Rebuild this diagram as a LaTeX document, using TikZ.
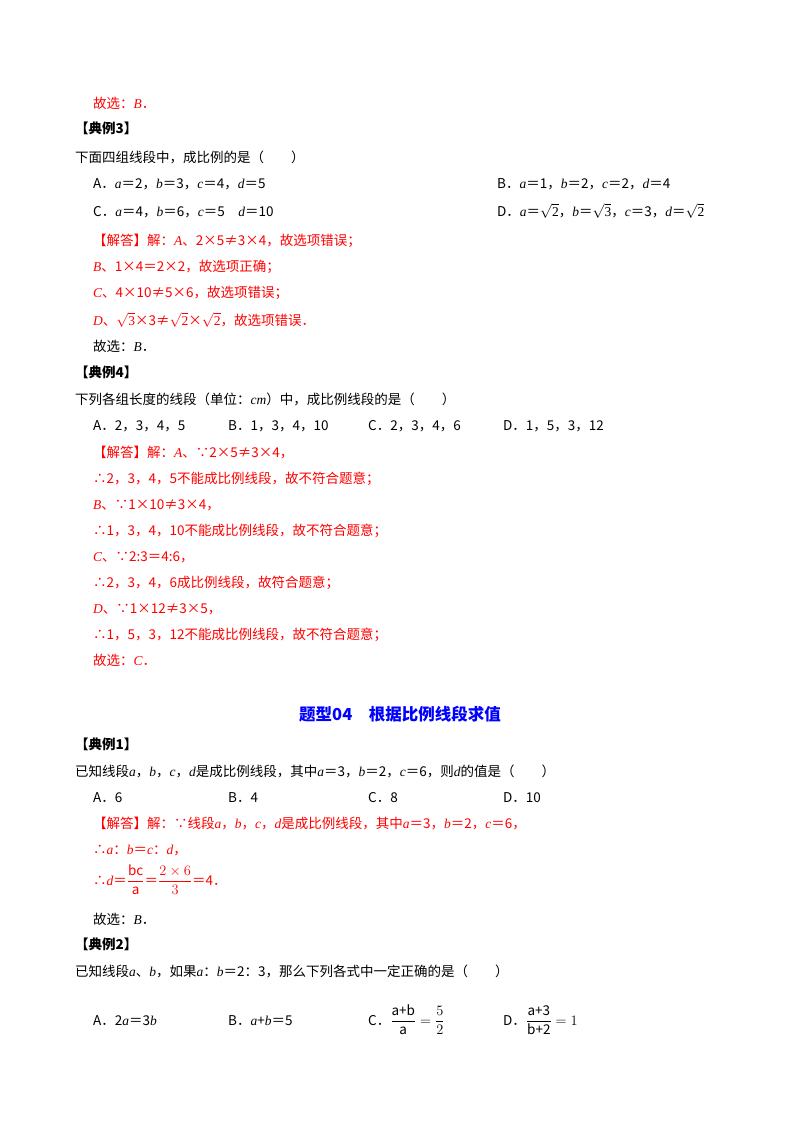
\documentclass[tikz,border=0pt]{standalone}
\usepackage{fontspec}
\usepackage{amsmath}
\setmainfont{Noto Sans CJK SC}
\newfontfamily\lt{Liberation Serif}
\newcommand{\vv}[1]{{\lt\itshape #1}}
\newcommand{\rt}[1]{$\sqrt{\text{\lt #1}}$}
\begin{document}
\begin{tikzpicture}[x=1pt,y=-1pt,
 t/.style={anchor=base west,inner sep=0pt,font=\fontsize{13.5}{16}\selectfont},
 r/.style={t,text=red},
 h/.style={t,font=\fontsize{13.5}{16}\selectfont\bfseries}]
\useasboundingbox (0,0) rectangle (800,1132);
\node[r] (l1) at (93,108) {故选：\vv{B}．};
\node[h] (l2) at (75,133) {【典例3】};
\node[t] (l3) at (75,162) {下面四组线段中，成比例的是（　　）};
\node[t] (l4a) at (93,188) {A．\vv{a}＝2，\vv{b}＝3，\vv{c}＝4，\vv{d}＝5};
\node[t] (l4b) at (497,188) {B．\vv{a}＝1，\vv{b}＝2，\vv{c}＝2，\vv{d}＝4};
\node[t] (l5a) at (93,216) {C．\vv{a}＝4，\vv{b}＝6，\vv{c}＝5　\vv{d}＝10};
\node[t] (l5b) at (497,216) {D．\vv{a}＝\rt{2}，\vv{b}＝\rt{3}，\vv{c}＝3，\vv{d}＝\rt{2}};
\node[r] (l6) at (93,245) {【解答】解：\vv{A}、2×5≠3×4，故选项错误；};
\node[r] (l7) at (93,271) {\vv{B}、1×4＝2×2，故选项正确；};
\node[r] (l8) at (93,297) {\vv{C}、4×10≠5×6，故选项错误；};
\node[r] (l9) at (93,325) {\vv{D}、\rt{3}×3≠\rt{2}×\rt{2}，故选项错误．};
\node[t] (l10) at (93,351) {故选：\vv{B}．};
\node[h] (l11) at (75,377) {【典例4】};
\node[t] (l12) at (75,404) {下列各组长度的线段（单位：\vv{cm}）中，成比例线段的是（　　）};
\node[t] (o1) at (93,430) {A．2，3，4，5};
\node[t] (o2) at (228,430) {B．1，3，4，10};
\node[t] (o3) at (368,430) {C．2，3，4，6};
\node[t] (o4) at (503,430) {D．1，5，3，12};
\node[r] (s1) at (93,457) {【解答】解：\vv{A}、∵2×5≠3×4，};
\node[r] (s2) at (93,483) {∴2，3，4，5不能成比例线段，故不符合题意；};
\node[r] (s3) at (93,509) {\vv{B}、∵1×10≠3×4，};
\node[r] (s4) at (93,535) {∴1，3，4，10不能成比例线段，故不符合题意；};
\node[r] (s5) at (93,561) {\vv{C}、∵2:3＝4:6，};
\node[r] (s6) at (93,587) {∴2，3，4，6成比例线段，故符合题意；};
\node[r] (s7) at (93,613) {\vv{D}、∵1×12≠3×5，};
\node[r] (s8) at (93,639) {∴1，5，3，12不能成比例线段，故不符合题意；};
\node[r] (s9) at (93,665) {故选：\vv{C}．};
\node[anchor=base,inner sep=0pt,text=blue,font=\fontsize{16.5}{20}\selectfont\bfseries] (title) at (400,720) {题型04　根据比例线段求值};
\node[h] (e1) at (75,749) {【典例1】};
\node[t] (q1) at (75,776) {已知线段\vv{a}，\vv{b}，\vv{c}，\vv{d}是成比例线段，其中\vv{a}＝3，\vv{b}＝2，\vv{c}＝6，则\vv{d}的值是（　　）};
\node[t] (p1) at (93,802) {A．6};
\node[t] (p2) at (228,802) {B．4};
\node[t] (p3) at (368,802) {C．8};
\node[t] (p4) at (503,802) {D．10};
\node[r] (a1) at (93,828) {【解答】解：∵线段\vv{a}，\vv{b}，\vv{c}，\vv{d}是成比例线段，其中\vv{a}＝3，\vv{b}＝2，\vv{c}＝6，};
\node[r] (a2) at (93,854) {∴\vv{a}：\vv{b}＝\vv{c}：\vv{d}，};
\node[r] (a3) at (93,885) {∴\vv{d}＝$\dfrac{\text{bc}}{\text{a}}$＝$\dfrac{2\times6}{3}$＝4．};
\node[t] (a4) at (93,924) {故选：\vv{B}．};
\node[h] (e2) at (75,949) {【典例2】};
\node[t] (q2) at (75,976) {已知线段\vv{a}、\vv{b}，如果\vv{a}：\vv{b}＝2：3，那么下列各式中一定正确的是（　　）};
\node[t] (r1) at (93,1025) {A．2\vv{a}＝3\vv{b}};
\node[t] (r2) at (228,1025) {B．\vv{a}+\vv{b}＝5};
\node[t] (r3) at (368,1025) {C．$\dfrac{\text{a+b}}{\text{a}}=\dfrac{5}{2}$};
\node[t] (r4) at (503,1025) {D．$\dfrac{\text{a+3}}{\text{b+2}}=1$};
\end{tikzpicture}
\end{document}
